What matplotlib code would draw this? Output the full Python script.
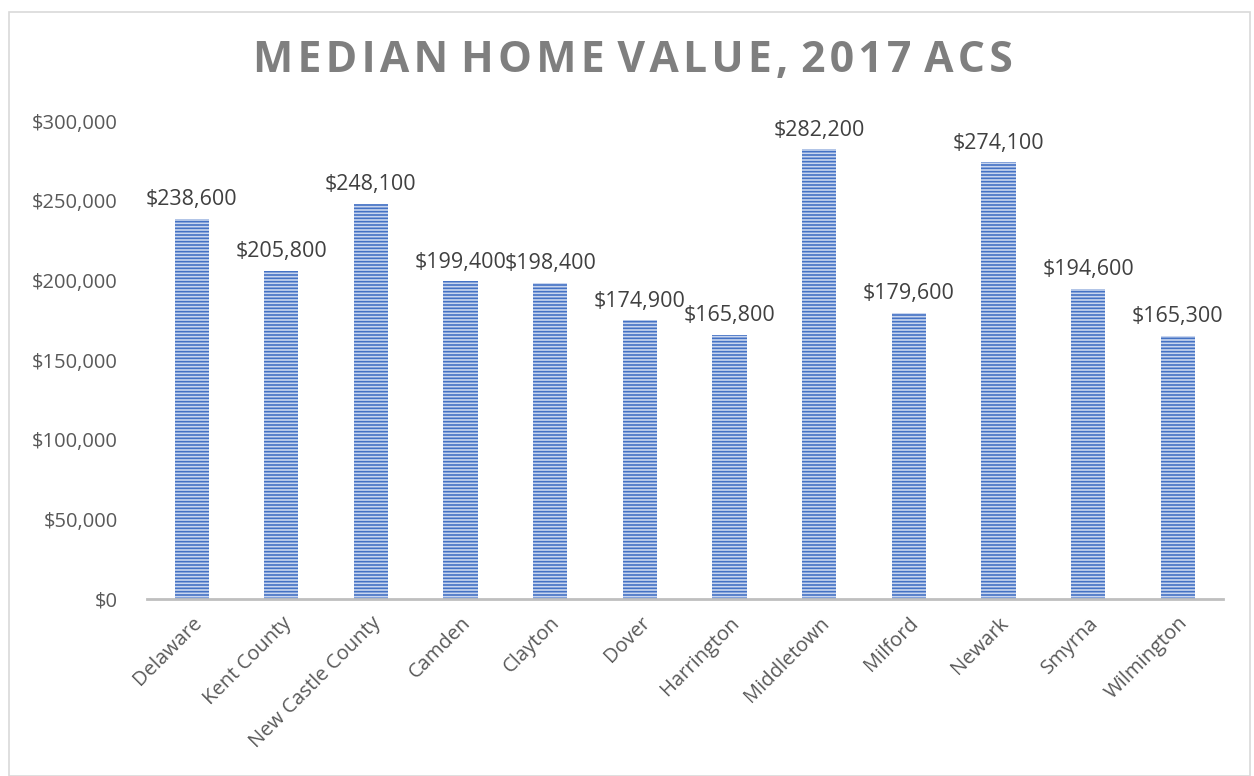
import matplotlib.pyplot as plt
from matplotlib.ticker import FuncFormatter, MultipleLocator
from matplotlib.patches import Rectangle

places = ['Delaware', 'Kent County', 'New Castle County', 'Camden', 'Clayton', 'Dover',
          'Harrington', 'Middletown', 'Milford', 'Newark', 'Smyrna', 'Wilmington']
home_values = [238600, 205800, 248100, 199400, 198400, 174900,
               165800, 282200, 179600, 274100, 194600, 165300]

plt.rcParams['font.family'] = ['Open Sans', 'DejaVu Sans']
plt.rcParams['hatch.linewidth'] = 1.2
plt.rcParams['hatch.color'] = '#4472c4'

fig = plt.figure(figsize=(12.54, 7.76), dpi=100)
ax = fig.add_axes([0.117, 0.228, 0.858, 0.616])

x = range(len(places))
bars = ax.bar(x, home_values, width=0.38, color='#c9d6ef', edgecolor='#4472c4',
              linewidth=0, hatch='-----')

for xi, v in zip(x, home_values):
    ax.text(xi, v + 5500, f'${v:,}', ha='center', va='bottom', fontsize=15.5,
            color='#404040', clip_on=False)

ax.set_xlim(-0.5, len(places) - 0.5)
ax.set_ylim(0, 300000)
ax.yaxis.set_major_locator(MultipleLocator(50000))
ax.yaxis.set_major_formatter(FuncFormatter(lambda v, p: f'${int(v):,}'))

ax.set_xticks(list(x))
ax.set_xticklabels(places, rotation=45, ha='right', rotation_mode='anchor')
ax.tick_params(axis='x', length=0, pad=10, labelsize=14.5, labelcolor='#595959')
ax.tick_params(axis='y', length=0, pad=21, labelsize=14.5, labelcolor='#595959')

for s in ['top', 'right', 'left']:
    ax.spines[s].set_visible(False)
ax.spines['bottom'].set_color('#bfbfbf')
ax.spines['bottom'].set_linewidth(2)

fig.text(0.505, 0.922, 'M E D I A N   H O M E   V A L U E ,   2 0 1 7   A C S'.replace(' ', '\u200a'),
         ha='center', va='center', fontsize=30.7, fontweight='bold', color='#7f7f7f')

# chart border
fig.patches.append(Rectangle((0.007, 0.0), 0.99, 0.985, transform=fig.transFigure,
                             fill=False, edgecolor='#d9d9d9', linewidth=1.2))

fig.savefig('out.png', dpi=100)
